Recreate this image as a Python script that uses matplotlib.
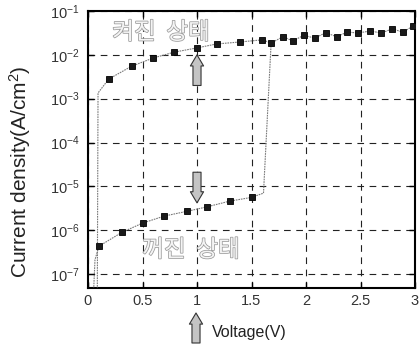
import matplotlib
matplotlib.use("Agg")
import matplotlib.pyplot as plt
import matplotlib.patheffects as pe
from matplotlib.ticker import FixedLocator, NullLocator

plt.rcParams["font.family"] = ["Liberation Sans", "DejaVu Sans"]
plt.rcParams["mathtext.fontset"] = "custom"
plt.rcParams["mathtext.rm"] = "Liberation Sans"
plt.rcParams["mathtext.it"] = "Liberation Sans"

# OFF-state sweep (marked points)
off_v = [0.10, 0.31, 0.50, 0.70, 0.91, 1.09, 1.30, 1.50]
off_j = [4.3e-7, 8.9e-7, 1.45e-6, 2.1e-6, 2.7e-6, 3.4e-6, 4.6e-6, 5.6e-6]

# ON-state sweep (marked points)
on_v = [0.19, 0.40, 0.60, 0.79, 1.00, 1.18, 1.39, 1.60, 1.68, 1.79, 1.88,
        1.98, 2.08, 2.18, 2.28, 2.38, 2.48, 2.59, 2.69, 2.79, 2.89, 2.98]
on_j = [2.8e-3, 5.5e-3, 8.5e-3, 1.15e-2, 1.44e-2, 1.77e-2, 1.96e-2, 2.2e-2,
        1.86e-2, 2.6e-2, 2.07e-2, 2.8e-2, 2.4e-2, 3.2e-2, 2.6e-2, 3.3e-2,
        3.15e-2, 3.5e-2, 3.15e-2, 3.9e-2, 3.3e-2, 4.5e-2]

# unmarked parts of the sweep
lead_in_v = [0.046, 0.064, 0.10]
lead_in_j = [2.0e-8, 2.1e-7, 4.3e-7]
switch_v = [1.50, 1.61, 1.68]
switch_j = [5.6e-6, 7.0e-6, 1.86e-2]
drop_v = [0.19, 0.092, 0.085]
drop_j = [2.8e-3, 1.35e-3, 2.0e-8]

x_ticks = [0, 0.5, 1, 1.5, 2, 2.5, 3]
x_tick_labels = ["0", "0.5", "1", "1.5", "2", "2.5", "3"]
y_ticks = [1e-7, 1e-6, 1e-5, 1e-4, 1e-3, 1e-2, 1e-1]
y_tick_labels = [r"$\mathregular{10^{-7}}$", r"$\mathregular{10^{-6}}$",
                 r"$\mathregular{10^{-5}}$", r"$\mathregular{10^{-4}}$",
                 r"$\mathregular{10^{-3}}$", r"$\mathregular{10^{-2}}$",
                 r"$\mathregular{10^{-1}}$"]

W, H = 420, 352
fig = plt.figure(figsize=(W / 100, H / 100), dpi=100)
fig.patch.set_facecolor("white")
ax = fig.add_axes([88 / W, 1 - 288 / H, (415 - 88) / W, (288 - 11) / H])

line_kw = dict(color="#7a7a7a", lw=0.8, ls=(0, (1.5, 0.8)), zorder=3)
ax.plot(lead_in_v, lead_in_j, **line_kw)
ax.plot(off_v, off_j, **line_kw)
ax.plot(switch_v, switch_j, **line_kw)
ax.plot(drop_v, drop_j, **line_kw)
ax.plot(on_v, on_j, **line_kw)

mk_kw = dict(ls="none", marker="s", ms=4.6, mfc="#1a1a1a", mec="black",
             mew=0.6, zorder=4)
ax.plot(off_v, off_j, **mk_kw)
ax.plot(on_v, on_j, **mk_kw)

ax.set_yscale("log")
ax.set_xlim(0, 3)
ax.set_ylim(4.8e-8, 1e-1)
ax.xaxis.set_major_locator(FixedLocator(x_ticks))
ax.set_xticklabels(x_tick_labels)
ax.yaxis.set_major_locator(FixedLocator(y_ticks))
ax.set_yticklabels(y_tick_labels)
ax.yaxis.set_minor_locator(NullLocator())
ax.xaxis.set_minor_locator(NullLocator())
ax.tick_params(direction="in", length=4, width=1.0, top=True, right=True,
               labelsize=10.5, colors="black", labelcolor="#333333")
ax.tick_params(axis="x", pad=4)
ax.tick_params(axis="y", pad=6)
for s in ax.spines.values():
    s.set_linewidth(1.5)
    s.set_color("black")

ax.grid(True, which="major", color="#222222", lw=0.8, ls=(0, (6, 5)))
ax.set_axisbelow(True)

# state labels (outlined Korean text)
state_kw = dict(fontsize=17, family=["Noto Sans CJK KR"], color="#f4f4f4",
                ha="center", va="center", zorder=2,
                path_effects=[pe.withStroke(linewidth=1.1, foreground="#9a9a9a")])
ax.text(0.67, 3.2e-2, "켜진  상태", **state_kw)
ax.text(0.945, 3.5e-7, "꺼진  상태", **state_kw)

# block arrows
arrow_kw = dict(arrowstyle="simple,head_length=0.8,head_width=0.95,tail_width=0.58",
                fc="#c4c4c4", ec="#333333", lw=0.8, shrinkA=0, shrinkB=0,
                mutation_scale=10)
ax.annotate("", xy=(1.0, 1.0e-2), xytext=(1.0, 2.0e-3), arrowprops=arrow_kw,
            zorder=5)
ax.annotate("", xy=(1.0, 4.2e-6), xytext=(1.0, 2.1e-5), arrowprops=arrow_kw,
            zorder=5)
fig.patches.append(matplotlib.patches.FancyArrowPatch(
    (196 / W, 1 - 343 / H), (196 / W, 1 - 313 / H), transform=fig.transFigure,
    **arrow_kw))

fig.text(20 / W, 1 - 172 / H, r"Current density(A/cm$^\mathregular{2}$)",
         rotation=90, ha="center", va="center", fontsize=15, color="#222222")
fig.text(249 / W, 1 - 332 / H, "Voltage(V)", ha="center", va="center",
         fontsize=11.5, color="#222222")

fig.savefig("out.png", dpi=100, facecolor="white")
